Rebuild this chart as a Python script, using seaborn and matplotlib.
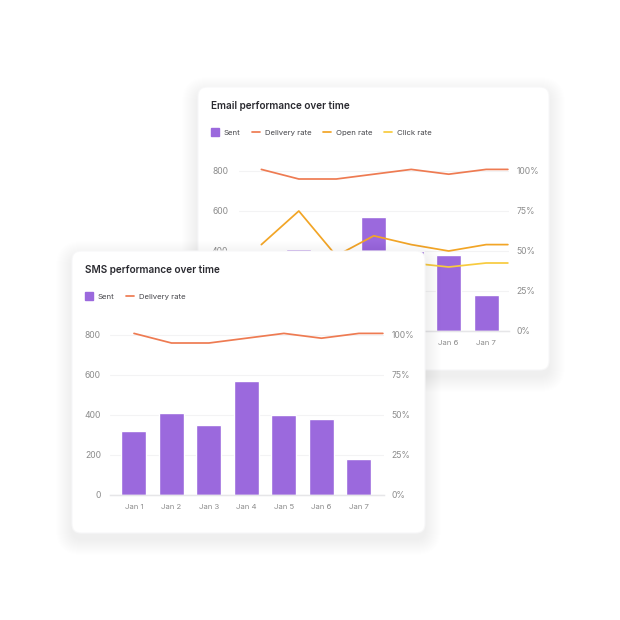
import matplotlib
matplotlib.use("Agg")
import matplotlib.pyplot as plt
import pandas as pd
import seaborn as sns
from matplotlib.lines import Line2D
from matplotlib.patches import FancyBboxPatch

# ----- data -----
days = ["Jan 1", "Jan 2", "Jan 3", "Jan 4", "Jan 5", "Jan 6", "Jan 7"]
sent = [320, 412, 350, 570, 400, 378, 178]
delivery_rate = [101, 95, 95, 98, 101, 98, 101]
open_rate = [54, 75, 47, 59.5, 54, 50, 54]
click_rate = [44, 40, 43, 46, 42.5, 40, 42.5]

left_ticks = [0, 200, 400, 600, 800]
right_ticks = [0, 25, 50, 75, 100]

PURPLE = "#9B69DD"
ORANGE = "#EE7B52"
AMBER = "#F2A526"
YELLOW = "#F8CB3E"
FONT = "Inter"

sns.set_theme(style="white")
plt.rcParams["font.family"] = [FONT, "DejaVu Sans"]

SIZE = 620
fig = plt.figure(figsize=(6.2, 6.2), dpi=100, facecolor="white")


def px_axes(x0, y0, x1, y1, z):
    # axes placed with pixel coordinates, y going down like in the picture
    ax = fig.add_axes([x0 / SIZE, 1 - y1 / SIZE, (x1 - x0) / SIZE, (y1 - y0) / SIZE])
    ax.set_zorder(z)
    return ax


def draw_card(x0, y0, x1, y1, z):
    bg = px_axes(0, 0, SIZE, SIZE, z)
    bg.set_xlim(0, SIZE)
    bg.set_ylim(SIZE, 0)
    bg.axis("off")
    # soft shadow, many faint boxes on top of each other
    for grow in range(16, 0, -1):
        bg.add_patch(FancyBboxPatch(
            (x0 - grow, y0 - grow + 6), x1 - x0 + 2 * grow, y1 - y0 + 2 * grow,
            boxstyle="round,pad=0,rounding_size=%d" % (10 + grow),
            fc="#303050", ec="none", alpha=0.003))
    bg.add_patch(FancyBboxPatch(
        (x0, y0), x1 - x0, y1 - y0, boxstyle="round,pad=0,rounding_size=9",
        fc="white", ec="#f7f7f8", lw=0.8))
    return bg


def draw_panel(card, plot, title, lines, z, left_pad):
    x0, y0, x1, y1 = card
    bg = draw_card(x0, y0, x1, y1, z)
    bg.text(x0 + 13, y0 + 19, title, fontsize=7.2, fontweight="semibold",
            color="#2a2a30", va="center", ha="left")

    # axes top sits above the 800 line so the rate lines have room
    ax = px_axes(plot[0], plot[1], plot[2], plot[3], z + 1)
    frame = pd.DataFrame({"day": days, "sent": sent})
    sns.barplot(data=frame, x="day", y="sent", color=PURPLE, saturation=1,
                width=0.667, ax=ax)
    ax.set_xlim(plot[4], plot[5])
    ax.set_ylim(0, 850)
    ax.set_yticks(left_ticks)
    ax.set_xlabel("")
    ax.set_ylabel("")
    ax.grid(axis="y", color="#f3f3f4", lw=0.8)
    ax.set_axisbelow(True)
    ax.patch.set_alpha(0)
    ax.tick_params(axis="y", length=0, pad=left_pad, labelsize=6.2, labelcolor="#8c8c8c")
    ax.tick_params(axis="x", length=0, pad=6.5, labelsize=5.6, labelcolor="#8c8c8c")

    twin = ax.twinx()
    twin.set_zorder(z + 2)
    # each rate line runs on flat from Jan 7 to the right end of the axis
    line_x = list(range(len(days))) + [plot[5] - 0.03]
    for name, values, color in lines:
        sns.lineplot(x=line_x, y=values + values[-1:], color=color, lw=1.25,
                     sort=False, errorbar=None, ax=twin)
    twin.set_xlim(plot[4], plot[5])
    twin.set_ylim(0, 106.25)
    twin.set_yticks(right_ticks)
    twin.set_yticklabels(["%d%%" % t for t in right_ticks])
    twin.set_ylabel("")
    twin.tick_params(axis="y", length=0, pad=5.5, labelsize=6.2, labelcolor="#8c8c8c")

    for a in (ax, twin):
        for side in ("top", "left", "right"):
            a.spines[side].set_visible(False)
        a.spines["bottom"].set_color("#e6e6e8")
        a.spines["bottom"].set_linewidth(0.9)

    # legend
    handles = [Line2D([], [], marker="s", ls="none", color=PURPLE, markersize=5.4)]
    labels = ["Sent"]
    for name, values, color in lines:
        handles.append(Line2D([], [], color=color, lw=1.25))
        labels.append(name)
    bg.legend(handles, labels, loc="center left",
              bbox_to_anchor=((x0 + 12.5) / SIZE, (SIZE - (y0 + 45.5)) / SIZE),
              bbox_transform=fig.transFigure, ncol=len(labels), frameon=False,
              fontsize=5.6, labelcolor="#45454a", handlelength=1.1, handletextpad=0.55,
              columnspacing=1.5, borderpad=0, borderaxespad=0)


draw_panel((198, 87, 549, 370), (238.5, 161, 509, 331, -0.61, 6.61),
           "Email performance over time",
           [("Delivery rate", delivery_rate, ORANGE),
            ("Open rate", open_rate, AMBER),
            ("Click rate", click_rate, YELLOW)],
           1, 7.5)

draw_panel((72, 251, 425, 533), (110, 325, 384, 495, -0.64, 6.67),
           "SMS performance over time",
           [("Delivery rate", delivery_rate, ORANGE)],
           5, 6.5)

fig.savefig("out.png", dpi=100, facecolor="white")
